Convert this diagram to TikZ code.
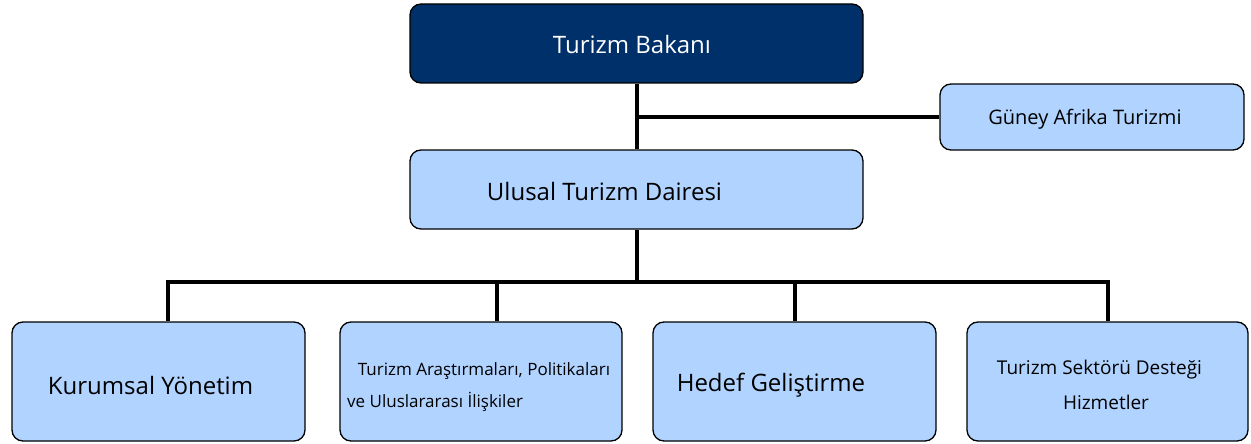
\documentclass[tikz,border=0pt]{standalone}
\usepackage{fontspec}
\setmainfont{Open Sans}
\definecolor{navy}{RGB}{0,48,105}
\definecolor{lblue}{RGB}{176,211,255}
\begin{document}
\begin{tikzpicture}[x=1pt,y=-1pt,
  box/.style={draw=black,line width=1.3pt,rounded corners=11pt,fill=lblue,inner sep=0pt},
  big/.style={font=\fontsize{24}{28}\selectfont},
  conn/.style={line width=3.8pt,line cap=rect}]
\useasboundingbox (0,0) rectangle (1251,444);
% boxes
\node[box,fill=navy,minimum width=453pt,minimum height=79pt] (top) at (636.5,43.5) {};
\node[box,minimum width=304pt,minimum height=66pt] (ga) at (1092,117) {};
\node[box,minimum width=453pt,minimum height=79pt] (ud) at (636.5,189.5) {};
\node[box,minimum width=293pt,minimum height=119pt] (b1) at (158.5,381.5) {};
\node[box,minimum width=282pt,minimum height=119pt] (b2) at (481,381.5) {};
\node[box,minimum width=283pt,minimum height=119pt] (b3) at (794.5,381.5) {};
\node[box,minimum width=281pt,minimum height=119pt] (b4) at (1107.5,381.5) {};
% texts
\node[big,text=white] (t0) at (632,45) {Turizm Bakanı};
\node[font=\fontsize{20}{24}\selectfont] (t1) at (1085,119) {Güney Afrika Turizmi};
\node[big] (t2) at (604.5,191) {Ulusal Turizm Dairesi};
\node[big] (t3) at (150.5,385) {Kurumsal Yönetim};
\node[font=\fontsize{17}{20}\selectfont] (t4a) at (484,371) {Turizm Araştırmaları, Politikaları};
\node[font=\fontsize{17}{20}\selectfont,anchor=west,inner sep=0pt] (t4b) at (347,402) {ve Uluslararası İlişkiler};
\node[big] (t5) at (771,385) {Hedef Geliştirme};
\node[font=\fontsize{19}{22}\selectfont] (t6a) at (1099.5,370) {Turizm Sektörü Desteği};
\node[font=\fontsize{19}{22}\selectfont] (t6b) at (1106,402) {Hizmetler};
% connectors
\coordinate (j1) at (637,117);
\coordinate (j2) at (637,282);
\draw[conn,line cap=butt] (top.south -| j1) -- (ud.north -| j1);
\draw[conn,line cap=butt] (j1) -- (ga.west |- j1);
\draw[conn,line cap=butt] (ud.south -| j2) -- (j2);
\draw[conn] (168,282) -- (1108,282);
\draw[conn,line cap=butt] (168,282) -- (b1.north -| 168,0);
\draw[conn,line cap=butt] (497,282) -- (b2.north -| 497,0);
\draw[conn,line cap=butt] (795,282) -- (b3.north -| 795,0);
\draw[conn,line cap=butt] (1108,282) -- (b4.north -| 1108,0);
\end{tikzpicture}
\end{document}
